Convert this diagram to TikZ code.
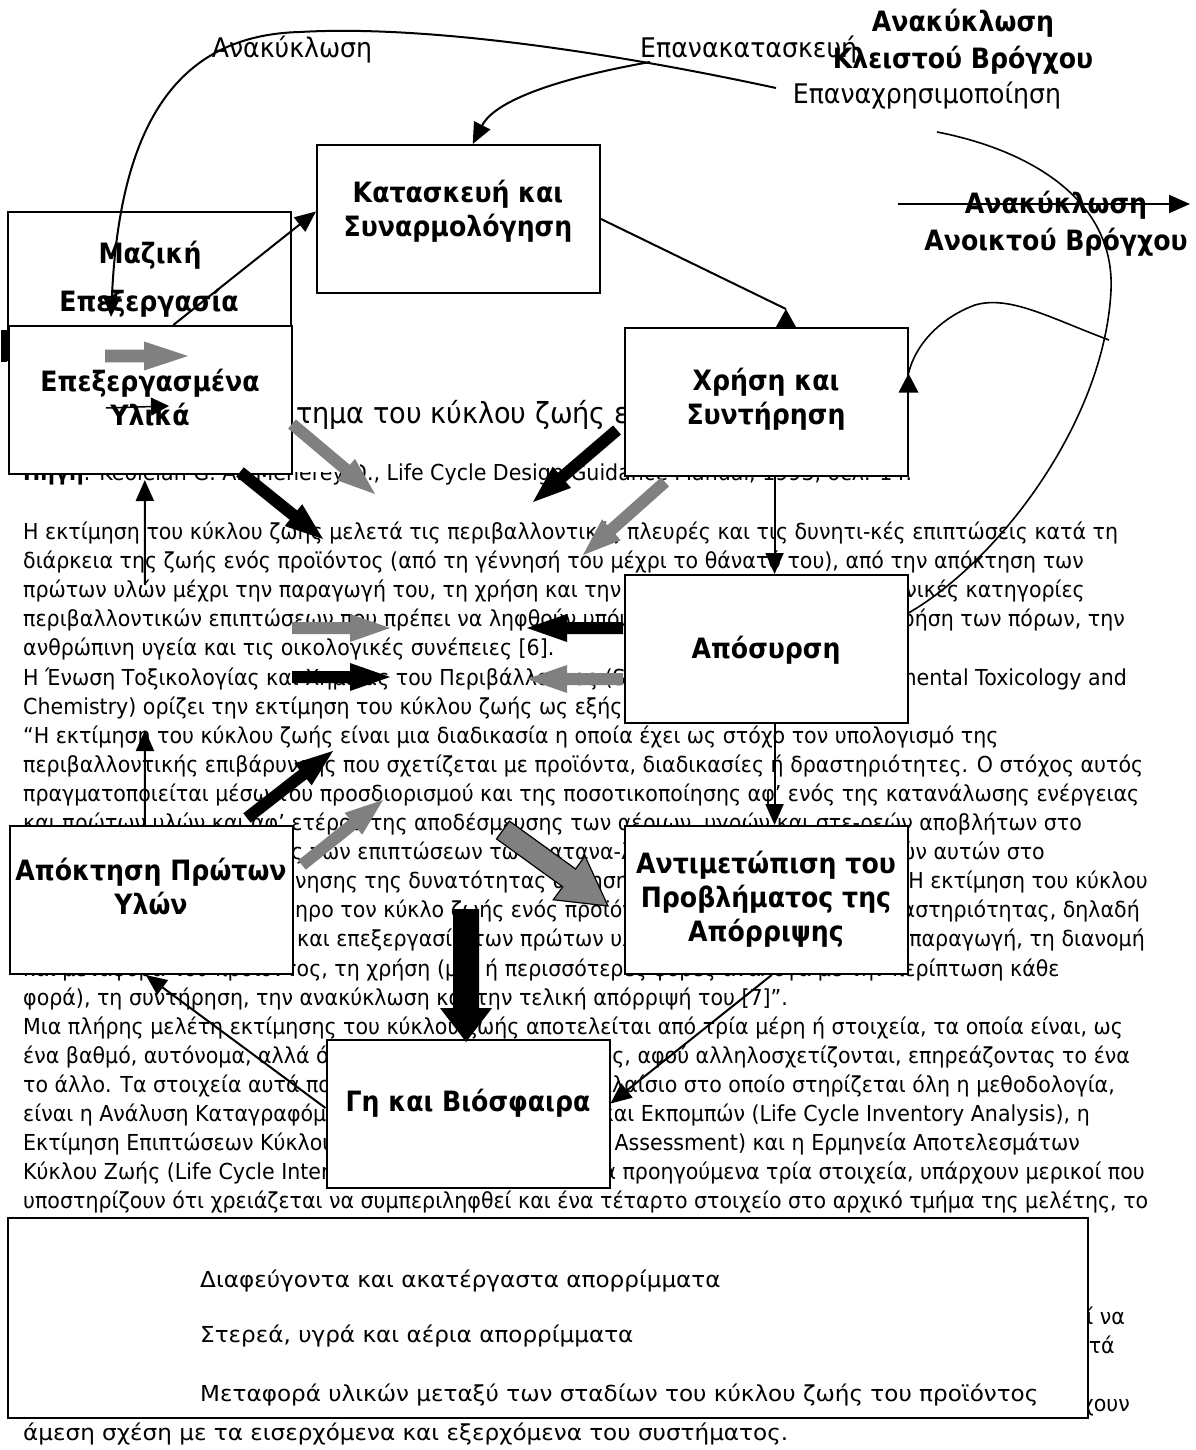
\documentclass[tikz,border=0pt]{standalone}
\usepackage{fontspec}
\setmainfont{DejaVu Sans}[FakeStretch=0.935]
\newfontfamily\labelfont{DejaVu Sans}[FakeStretch=0.9]
\newfontfamily\widefont{DejaVu Sans}[FakeStretch=1.05]
\usetikzlibrary{calc,arrows.meta}
\definecolor{arrowgray}{RGB}{128,128,128}

% one line of running text, anchored at its left or right end
\newcommand{\txtw}[4]{\node[bodytext,anchor=base west] (#1) at (#2,#3) {#4};}
\newcommand{\txte}[4]{\node[bodytext,anchor=base east] (#1) at (#2,#3) {#4};}

% wide block arrow: style, tail, tip, half shaft width, half head width, head length
\newcommand{\blockarrow}[6]{%
  \coordinate (bah) at ($(#3)!#6!(#2)$);
  \path[#1] ($(#2)!#4!90:(#3)$) -- ($(bah)!#4!90:(#3)$) -- ($(bah)!#5!90:(#3)$) -- (#3)
    -- ($(bah)!#5!-90:(#3)$) -- ($(bah)!#4!-90:(#3)$) -- ($(#2)!#4!-90:(#3)$) -- cycle;
}

\tikzset{
  stage/.style={draw=black, line width=2pt, fill=white, minimum width=283pt,
    minimum height=148pt, inner sep=0pt},
  stagelabel/.style={font=\labelfont\bfseries\fontsize{28}{34}\selectfont, align=center, inner sep=0pt},
  bodytext/.style={font=\fontsize{22}{25}\selectfont, inner sep=0pt},
  widetext/.style={font=\widefont\fontsize{22}{25}\selectfont, inner sep=0pt},
  captext/.style={font=\fontsize{29}{34}\selectfont, inner sep=0pt},
  toplabel/.style={font=\fontsize{27}{33}\selectfont, inner sep=0pt},
  topbold/.style={font=\labelfont\bfseries\fontsize{28}{37}\selectfont, align=center, inner sep=0pt},
  flow/.style={line width=2pt, -{Triangle[length=21pt,width=18pt]}},
  loopline/.style={line width=1.6pt},
  blackblock/.style={fill=black},
  grayblock/.style={fill=arrowgray},
  outlinedblock/.style={fill=arrowgray, draw=black, line width=1.2pt},
}

\begin{document}
\begin{tikzpicture}[x=1pt,y=-1pt]
\useasboundingbox (0,0) rectangle (1195,1450);
\fill[white] (0,0) rectangle (1195,1450);

% ---------- running text of the page ----------
\txtw{src}{23}{480}{\textbf{Πηγή}: Keoleian G. A., Menerey D., Life Cycle Design Guidance Manual, 1993, σελ. 14.}
\node[captext, anchor=base west] (cap) at (296,423) {τημα του κύκλου ζωής ενός προϊόντος};
\fill[white] (291,440) rectangle (360,472);
\txtw{pB}{23}{539}{Η εκτίμηση του κύκλου ζωής μελετά τις περιβαλλοντικές πλευρές και τις δυνητι-κές επιπτώσεις κατά τη}
\txtw{pC}{23}{568}{διάρκεια της ζωής ενός προϊόντος (από τη γέννησή του μέχρι το θάνατό του), από την απόκτηση των}
\txtw{pD}{23}{597}{πρώτων υλών μέχρι την παραγωγή του, τη χρήση και την τελική}
\txte{pDr}{1085}{597}{γενικές κατηγορίες}
\txtw{pE}{23}{626}{περιβαλλοντικών επιπτώσεων που πρέπει να ληφθούν υπόψη}
\txte{pEr}{1125}{626}{χρήση των πόρων, την}
\txtw{pF}{23}{655}{ανθρώπινη υγεία και τις οικολογικές συνέπειες [6].}
\txtw{pG}{23}{685}{Η Ένωση Τοξικολογίας και Χημείας του Περιβάλλοντος (Society of}
\txte{pGr}{1127}{685}{Environmental Toxicology and}
\txtw{pH}{23}{714}{Chemistry) ορίζει την εκτίμηση του κύκλου ζωής ως εξής:}
\txtw{pI}{23}{743}{“Η εκτίμηση του κύκλου ζωής είναι μια διαδικασία η οποία έχει ως στόχο τον υπολογισμό της}
\txtw{pJ}{23}{772}{περιβαλλοντικής επιβάρυνσης που σχετίζεται με προϊόντα, διαδικασίες ή δραστηριότητες. Ο στόχος αυτός}
\txtw{pK}{23}{801}{πραγματοποιείται μέσω του προσδιορισμού και της ποσοτικοποίησης αφ’ ενός της κατανάλωσης ενέργειας}
\txtw{pL}{23}{830}{και πρώτων υλών και αφ’ ετέρου της αποδέσμευσης των αέριων, υγρών και στε-ρεών αποβλήτων στο}
\txtw{pM}{291}{859}{ς των επιπτώσεων των κατανα-λώσεων}
\txte{pMr}{1045}{859}{εκπομπών αυτών στο}
\txtw{pN}{295}{888}{νησης της δυνατότητας αύξησης της}
\txte{pNr}{1148}{888}{βελτίωσης. Η εκτίμηση του κύκλου}
\txtw{pO}{295}{917}{ηρο τον κύκλο ζωής ενός προϊόντος, διεργασίας}
\txte{pOr}{1140}{917}{ή δραστηριότητας, δηλαδή}
\txtw{pP}{297}{946}{και επεξεργασία των πρώτων υλών, την}
\txte{pPr}{1145}{946}{την παραγωγή, τη διανομή}
\txtw{pQ}{23}{976}{και μεταφορά του προϊόντος, τη χρήση (μία ή περισσότερες φορές ανάλογα με την περίπτωση κάθε}
\txtw{pR}{23}{1005}{φορά), τη συντήρηση, την ανακύκλωση και την τελική απόρριψή του [7]”.}
\txtw{pS}{23}{1034}{Μια πλήρης μελέτη εκτίμησης του κύκλου ζωής αποτελείται από τρία μέρη ή στοιχεία, τα οποία είναι, ως}
\txtw{pT}{23}{1063}{ένα βαθμό, αυτόνομα, αλλά όχι ανεξάρτητα}
\txte{pTr}{1130}{1063}{μεταξύ τους, αφού αλληλοσχετίζονται, επηρεάζοντας το ένα}
\txtw{pU}{23}{1092}{το άλλο. Τα στοιχεία αυτά που αποτελούν}
\txte{pUr}{1115}{1092}{βασικό πλαίσιο στο οποίο στηρίζεται όλη η μεθοδολογία,}
\txtw{pV}{23}{1121}{είναι η Ανάλυση Καταγραφόμενων Καταναλώσεων}
\txte{pVr}{1090}{1121}{και Εκπομπών (Life Cycle Inventory Analysis), η}
\txtw{pW}{23}{1150}{Εκτίμηση Επιπτώσεων Κύκλου Ζωής}
\txte{pWr}{1080}{1150}{(Life Cycle Impact Assessment) και η Ερμηνεία Αποτελεσμάτων}
\txtw{pX}{23}{1179}{Κύκλου Ζωής (Life Cycle Interpretation).}
\txte{pXr}{1145}{1179}{Εκτός από τα προηγούμενα τρία στοιχεία, υπάρχουν μερικοί που}
\txtw{pY}{23}{1208}{υποστηρίζουν ότι χρειάζεται να συμπεριληφθεί και ένα τέταρτο στοιχείο στο αρχικό τμήμα της μελέτης, το}
\txte{pZa}{1125}{1324}{μπορεί να}
\txte{pZb}{1115}{1353}{κατά}
\txte{pZc}{1130}{1411}{έχουν}
\node[widetext, anchor=base west] (pZd) at (23,1440) {άμεση σχέση με τα εισερχόμενα και εξερχόμενα του συστήματος.};

% ---------- stage boxes ----------
\fill (1,330) rectangle (7,362);
\node[stage] (maz) at (149,286) {};
\node[stagelabel] (mazA) at (150,255) {Μαζική};
\node[stagelabel] (mazB) at (149,303) {Επεξεργασία};
\node[stage] (epx) at (150.5,400) {};
\node[stage] (kat) at (458.5,219) {};
\node[stage] (xr) at (766,402) {};
\node[stage] (apo) at (766,649) {};
\node[stage] (ant) at (766,900) {};
\node[stage] (apk) at (151.5,900) {};
\node[stage] (gi) at (468,1114) {};
\node[draw, line width=2pt, fill=white, minimum width=1080pt, minimum height=200pt, inner sep=0pt] (leg) at (548,1318) {};

\node[stagelabel] (epxl) at (150,398) {Επεξεργασμένα\\Υλικά};
\node[stagelabel] (katl) at (458,211) {Κατασκευή και\\Συναρμολόγηση};
\node[stagelabel] (xrl) at (766,399) {Χρήση και\\Συντήρηση};
\node[stagelabel] (apol) at (766,650) {Απόσυρση};
\node[stagelabel] (antl) at (766,899) {Αντιμετώπιση του\\Προβλήματος της\\Απόρριψης};
\node[stagelabel] (apkl) at (151,886) {Απόκτηση Πρώτων\\Υλών};
\node[stagelabel] (gil) at (468,1103) {Γη και Βιόσφαιρα};

% legend entries
\node[widetext, anchor=base west] (lg1) at (200,1287) {Διαφεύγοντα και ακατέργαστα απορρίμματα};
\node[widetext, anchor=base west] (lg2) at (200,1342) {Στερεά, υγρά και αέρια απορρίμματα};
\node[widetext, anchor=base west] (lg3) at (200,1401) {Μεταφορά υλικών μεταξύ των σταδίων του κύκλου ζωής του προϊόντος};

% ---------- recovery loop labels ----------
\node[toplabel] (rec) at (292,50) {Ανακύκλωση};
\node[toplabel, anchor=west] (reman) at (640,50) {Επανακατασκευή};
\node[topbold] (closed) at (963,42) {Ανακύκλωση\\Κλειστού Βρόγχου};
\node[toplabel] (reuse) at (927,96) {Επαναχρησιμοποίηση};
\node[topbold] (open) at (1056,224) {Ανακύκλωση\\Ανοικτού Βρόγχου};

% ---------- connectors ----------
\coordinate (recStart) at (776,88);
\coordinate (remStart) at (650,62);
\coordinate (loopTop) at (937,132);
\coordinate (reuseStart) at (1109,340);
\coordinate (openA) at (898,204);
\coordinate (openB) at (1190,204);
\coordinate (upLow) at (145,730);
\coordinate (upHigh) at (145,585);
\coordinate (thinA) at (106,408);
\coordinate (thinB) at (169,406);

% main flow of the life cycle
\draw[flow] ($(epx.north west)!0.58!(epx.north east)$) -- ($(kat.north west)!0.45!(kat.south west)$);
\coordinate (xrTop) at ($(xr.north west)!0.57!(xr.north east)$);
\draw[line width=2pt] ($(kat.north east)!0.5!(kat.south east)$) -- ($(xrTop)+(0,-18)$);
\fill ($(xrTop)+(0,-18)$) -- ($(xrTop)+(-10,0)$) -- ($(xrTop)+(10,0)$) -- cycle;
\draw[flow] ($(xr.south west)!0.53!(xr.south east)$) -- ($(apo.north west)!0.53!(apo.north east)$);
\draw[flow] ($(apo.south west)!0.53!(apo.south east)$) -- ($(ant.north west)!0.53!(ant.north east)$);
\draw[flow] ($(ant.south west)!0.52!(ant.south east)$) -- ($(gi.north east)!0.43!(gi.south east)$);
\draw[flow] ($(gi.north west)!0.46!(gi.south west)$) -- ($(apk.south west)!0.48!(apk.south east)$);
\draw[flow] ($(apk.north west)!0.477!(apk.north east)$) -- (upLow);
\draw[flow] (upHigh) -- ($(epx.south west)!0.48!(epx.south east)+(0,5)$);
\draw[line width=1.5pt, -{Triangle[length=18pt,width=18pt]}] (thinA) -- (thinB);

% recovery loops
\draw[flow] (recStart) .. controls (600,50) and (420,25) .. (300,32)
  .. controls (180,35) and (120,120) .. (111,317);
\draw[flow] (remStart) .. controls (560,78) and (495,100) .. ($(kat.north west)!0.55!(kat.north east)$);
\draw[loopline] ($(apo.north east)!0.26!(apo.south east)$) .. controls (1000,560) and (1105,420) .. (1111,290)
  .. controls (1115,200) and (1030,150) .. (loopTop);
\coordinate (xrSide) at ($(xr.north east)!0.31!(xr.south east)$);
\draw[loopline] (reuseStart) .. controls (1050,318) and (1010,295) .. (975,305)
  .. controls (940,318) and (915,345) .. (xrSide);
\fill (xrSide) -- ($(xrSide)+(-10,19)$) -- ($(xrSide)+(10,19)$) -- cycle;
\draw[flow] (openA) -- (openB);

% ---------- material and waste flows ----------
\coordinate (g1a) at (105,356); \coordinate (g1b) at (188,356);
\coordinate (g2a) at (292,424); \coordinate (g2b) at (375,494);
\coordinate (g3a) at (665,482); \coordinate (g3b) at (583,555);
\coordinate (g4a) at (292,628); \coordinate (g4b) at (390,628);
\coordinate (g5a) at (623,679); \coordinate (g5b) at (527,679);
\coordinate (g6a) at (302,865); \coordinate (g6b) at (383,800);
\coordinate (g7a) at (503,830); \coordinate (g7b) at (608,906);
\coordinate (b1a) at (240,472); \coordinate (b1b) at (323,539);
\coordinate (b2a) at (617,430); \coordinate (b2b) at (533,502);
\coordinate (b3a) at (623,628); \coordinate (b3b) at (527,628);
\coordinate (b4a) at (292,677); \coordinate (b4b) at (390,677);
\coordinate (b5a) at (247,818); \coordinate (b5b) at (333,751);
\coordinate (b6a) at (466,909); \coordinate (b6b) at (466,1042);

\blockarrow{grayblock}{g1a}{g1b}{6.3pt}{14.5pt}{44pt}
\blockarrow{grayblock}{g2a}{g2b}{6pt}{14pt}{38pt}
\blockarrow{grayblock}{g3a}{g3b}{6pt}{14pt}{38pt}
\blockarrow{grayblock}{g4a}{g4b}{6pt}{14pt}{40pt}
\blockarrow{grayblock}{g5a}{g5b}{6pt}{14pt}{40pt}
\blockarrow{grayblock}{g6a}{g6b}{6pt}{14pt}{38pt}
\blockarrow{outlinedblock}{g7a}{g7b}{11pt}{27pt}{48pt}
\blockarrow{blackblock}{b1a}{b1b}{6pt}{14pt}{38pt}
\blockarrow{blackblock}{b2a}{b2b}{6pt}{14pt}{38pt}
\blockarrow{blackblock}{b3a}{b3b}{6pt}{14pt}{40pt}
\blockarrow{blackblock}{b4a}{b4b}{6pt}{14pt}{40pt}
\blockarrow{blackblock}{b5a}{b5b}{6pt}{14pt}{38pt}
\blockarrow{blackblock}{b6a}{b6b}{13pt}{26pt}{34pt}
\end{tikzpicture}
\end{document}
